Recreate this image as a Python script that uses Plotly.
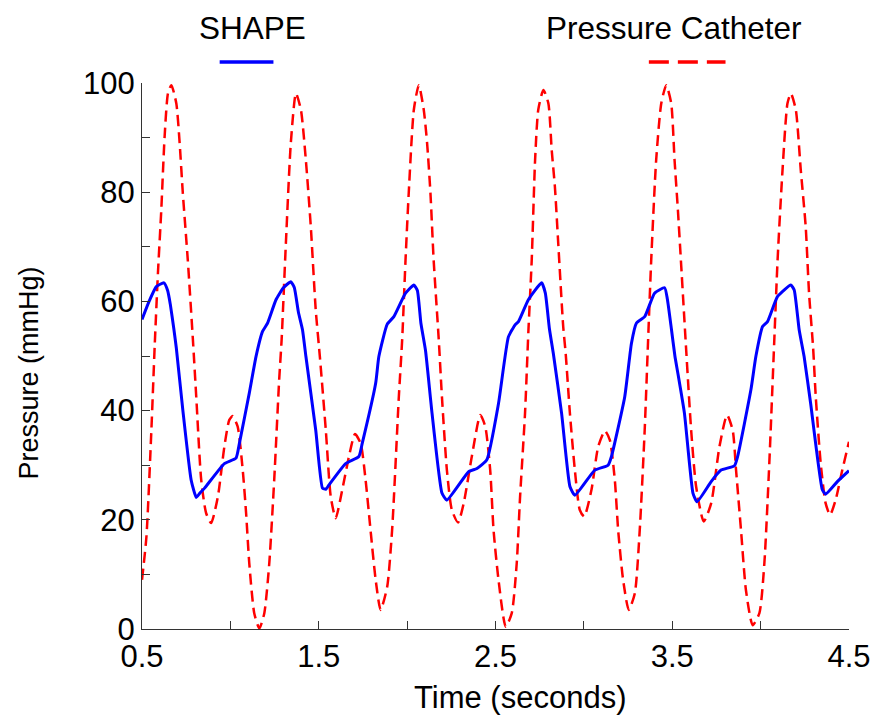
import plotly.graph_objects as go

# ---- data ----
catheter_t = [0.5, 0.525, 0.553, 0.572, 0.59, 0.609, 0.628, 0.647, 0.666, 0.694, 0.713, 0.731, 0.759, 0.788,
              0.807, 0.835, 0.863, 0.891, 0.929, 0.966, 0.994, 1.013, 1.041, 1.07, 1.089, 1.107, 1.135, 1.164,
              1.192, 1.22, 1.248, 1.276, 1.29, 1.314, 1.342, 1.371, 1.399, 1.427, 1.455, 1.483, 1.507, 1.54,
              1.568, 1.596, 1.633, 1.671, 1.705, 1.737, 1.765, 1.793, 1.822, 1.85, 1.887, 1.915, 1.953, 1.972,
              1.991, 2.009, 2.038, 2.066, 2.094, 2.113, 2.132, 2.15, 2.179, 2.197, 2.225, 2.253, 2.288, 2.32,
              2.366, 2.414, 2.442, 2.47, 2.489, 2.517, 2.558, 2.592, 2.62, 2.639, 2.667, 2.686, 2.705, 2.724,
              2.742, 2.771, 2.799, 2.818, 2.836, 2.855, 2.883, 2.897, 2.921, 2.949, 2.977, 3.002, 3.043, 3.081,
              3.119, 3.147, 3.175, 3.194, 3.222, 3.254, 3.288, 3.316, 3.344, 3.363, 3.381, 3.409, 3.438, 3.466,
              3.494, 3.513, 3.532, 3.551, 3.579, 3.607, 3.635, 3.678, 3.72, 3.767, 3.81, 3.842, 3.861, 3.889,
              3.917, 3.955, 3.993, 4.021, 4.049, 4.077, 4.096, 4.124, 4.152, 4.171, 4.199, 4.227, 4.255, 4.274,
              4.297, 4.312, 4.34, 4.368, 4.393, 4.424, 4.462, 4.5]
catheter_p = [9.0, 16.9, 36.4, 52.0, 65.1, 76.7, 90.2, 98.1, 99.6, 96.3, 89.0, 79.8, 67.6, 53.0,
              42.5, 27.3, 21.2, 19.4, 24.2, 33.4, 38.3, 39.0, 37.1, 29.1, 21.2, 12.0, 2.9, 0.1,
              2.9, 12.0, 27.3, 45.6, 53.0, 70.6, 89.0, 98.1, 95.1, 85.9, 73.7, 58.4, 49.6, 36.4,
              24.2, 20.3, 25.5, 31.6, 35.7, 34.0, 27.3, 18.1, 9.0, 3.5, 7.7, 18.1, 42.5, 53.0,
              67.6, 79.8, 95.1, 99.6, 95.1, 89.0, 79.8, 67.6, 53.0, 42.5, 29.1, 21.8, 19.5, 23.0,
              31.6, 39.2, 37.1, 29.1, 18.1, 9.0, 0.4, 2.9, 12.0, 24.2, 39.5, 54.5, 67.6, 85.9,
              95.1, 98.7, 96.3, 87.7, 81.0, 70.6, 55.4, 50.5, 39.5, 29.1, 21.8, 20.6, 25.5, 33.4,
              36.3, 34.6, 27.3, 18.1, 9.0, 3.5, 6.5, 18.1, 36.4, 52.6, 67.6, 85.9, 96.3, 99.6,
              96.3, 85.9, 76.7, 66.4, 51.0, 36.4, 26.1, 19.7, 23.0, 33.4, 39.2, 36.4, 29.1, 18.1,
              7.1, 0.7, 2.9, 12.0, 30.3, 52.6, 67.6, 84.1, 96.3, 98.1, 95.1, 84.1, 73.7, 61.5,
              51.5, 42.5, 30.3, 23.0, 20.9, 23.6, 29.1, 34.3]

shape_t = [0.5, 0.54, 0.581, 0.624, 0.645, 0.66, 0.68, 0.694, 0.731, 0.778, 0.807, 0.83, 0.854, 0.966,
           1.032, 1.051, 1.107, 1.145, 1.182, 1.21, 1.258, 1.3, 1.342, 1.362, 1.385, 1.408, 1.427, 1.483,
           1.521, 1.54, 1.558, 1.652, 1.727, 1.746, 1.822, 1.84, 1.887, 1.925, 1.991, 2.038, 2.058, 2.078,
           2.104, 2.141, 2.197, 2.225, 2.348, 2.395, 2.451, 2.517, 2.573, 2.611, 2.63, 2.686, 2.761, 2.782,
           2.805, 2.827, 2.874, 2.921, 2.949, 3.062, 3.137, 3.156, 3.231, 3.269, 3.297, 3.344, 3.4, 3.457,
           3.472, 3.495, 3.515, 3.532, 3.569, 3.617, 3.64, 3.72, 3.776, 3.852, 3.87, 3.945, 3.973, 4.011,
           4.039, 4.096, 4.171, 4.19, 4.218, 4.246, 4.283, 4.349, 4.368, 4.434, 4.5]
shape_p = [56.7, 60.0, 62.7, 63.4, 62.0, 59.5, 55.0, 51.5, 40.1, 27.3, 24.1, 25.0, 25.8, 30.3,
           31.3, 34.0, 43.2, 49.9, 54.5, 56.0, 60.3, 62.5, 63.6, 62.5, 58.0, 54.8, 50.0, 36.4,
           25.8, 25.6, 26.4, 30.3, 31.6, 34.0, 45.0, 49.9, 55.8, 57.2, 61.5, 63.0, 62.0, 56.0,
           51.0, 39.5, 24.9, 23.6, 28.8, 29.4, 31.0, 41.3, 53.5, 55.7, 56.3, 60.3, 63.4, 61.5,
           55.0, 50.5, 39.5, 26.1, 24.5, 29.1, 30.0, 31.6, 42.5, 52.3, 56.0, 57.2, 61.5, 62.5,
           60.5, 55.0, 50.0, 46.8, 39.5, 24.9, 23.3, 27.0, 29.1, 29.9, 31.6, 43.8, 49.9, 55.4,
           56.3, 60.9, 63.0, 62.1, 54.8, 49.9, 41.3, 25.5, 24.7, 27.0, 29.0]

x_tickvals = [0.5, 1.0, 1.5, 2.0, 2.5, 3.0, 3.5, 4.0, 4.5]
x_ticktext = ["0.5", "", "1.5", "", "2.5", "", "3.5", "", "4.5"]
y_tickvals = [0, 10, 20, 30, 40, 50, 60, 70, 80, 90, 100]
y_ticktext = ["0", "", "20", "", "40", "", "60", "", "80", "", "100"]

BLUE = "#0000FF"
RED = "#FF0000"
FONT = "Liberation Sans, Arial, sans-serif"

# plot-area geometry (pixels) used only to place titles / legend in paper coordinates
L, R, T, B = 142, 852, 83, 629
def px_x(p):
    return (p - L) / (R - L)
def px_y(p):
    return (B - p) / (B - T)

fig = go.Figure()
fig.add_trace(go.Scatter(x=catheter_t, y=catheter_p, mode="lines", name="Pressure Catheter",
                         line=dict(color=RED, width=2.5, dash="11px,6px", shape="spline", smoothing=0.6),
                         showlegend=False))
fig.add_trace(go.Scatter(x=shape_t, y=shape_p, mode="lines", name="SHAPE",
                         line=dict(color=BLUE, width=3, shape="spline", smoothing=0.45),
                         showlegend=False))

axis_common = dict(showgrid=False, zeroline=False, showline=True, linecolor="#333333", linewidth=1.2,
                   ticks="inside", ticklen=8, tickwidth=1.2, tickcolor="#333333",
                   tickfont=dict(family=FONT, size=31, color="black"))

fig.update_layout(
    width=883, height=726,
    margin=dict(l=L, r=883 - R, t=T, b=726 - B),
    paper_bgcolor="white", plot_bgcolor="white",
    font=dict(family=FONT, color="black"),
    xaxis=dict(range=[0.5, 4.5], tickvals=x_tickvals, ticktext=x_ticktext, **axis_common),
    yaxis=dict(range=[0, 100], tickvals=y_tickvals, ticktext=y_ticktext, **axis_common),
    showlegend=False,
)

# axis titles
fig.add_annotation(xref="paper", yref="paper", x=px_x(522), y=px_y(697),
                   text="Time (seconds)", showarrow=False,
                   font=dict(family=FONT, size=31, color="black"),
                   xanchor="center", yanchor="middle")
fig.add_annotation(xref="paper", yref="paper", x=px_x(29), y=px_y(373),
                   text="Pressure (mmHg)", showarrow=False, textangle=-90,
                   font=dict(family=FONT, size=27, color="black"),
                   xanchor="center", yanchor="middle")

# legend (text above sample lines)
fig.add_annotation(xref="paper", yref="paper", x=px_x(253), y=px_y(28),
                   text="SHAPE", showarrow=False, font=dict(family=FONT, size=31.5, color="black"),
                   xanchor="center", yanchor="middle")
fig.add_annotation(xref="paper", yref="paper", x=px_x(676), y=px_y(28),
                   text="Pressure Catheter", showarrow=False, font=dict(family=FONT, size=31.5, color="black"),
                   xanchor="center", yanchor="middle")
fig.add_shape(type="line", xref="paper", yref="paper",
              x0=px_x(220), x1=px_x(274), y0=px_y(62), y1=px_y(62),
              line=dict(color=BLUE, width=3.5))
fig.add_shape(type="line", xref="paper", yref="paper",
              x0=px_x(651), x1=px_x(728), y0=px_y(62), y1=px_y(62),
              line=dict(color=RED, width=3.5, dash="20px,9px"))

fig.write_html("out.html")
